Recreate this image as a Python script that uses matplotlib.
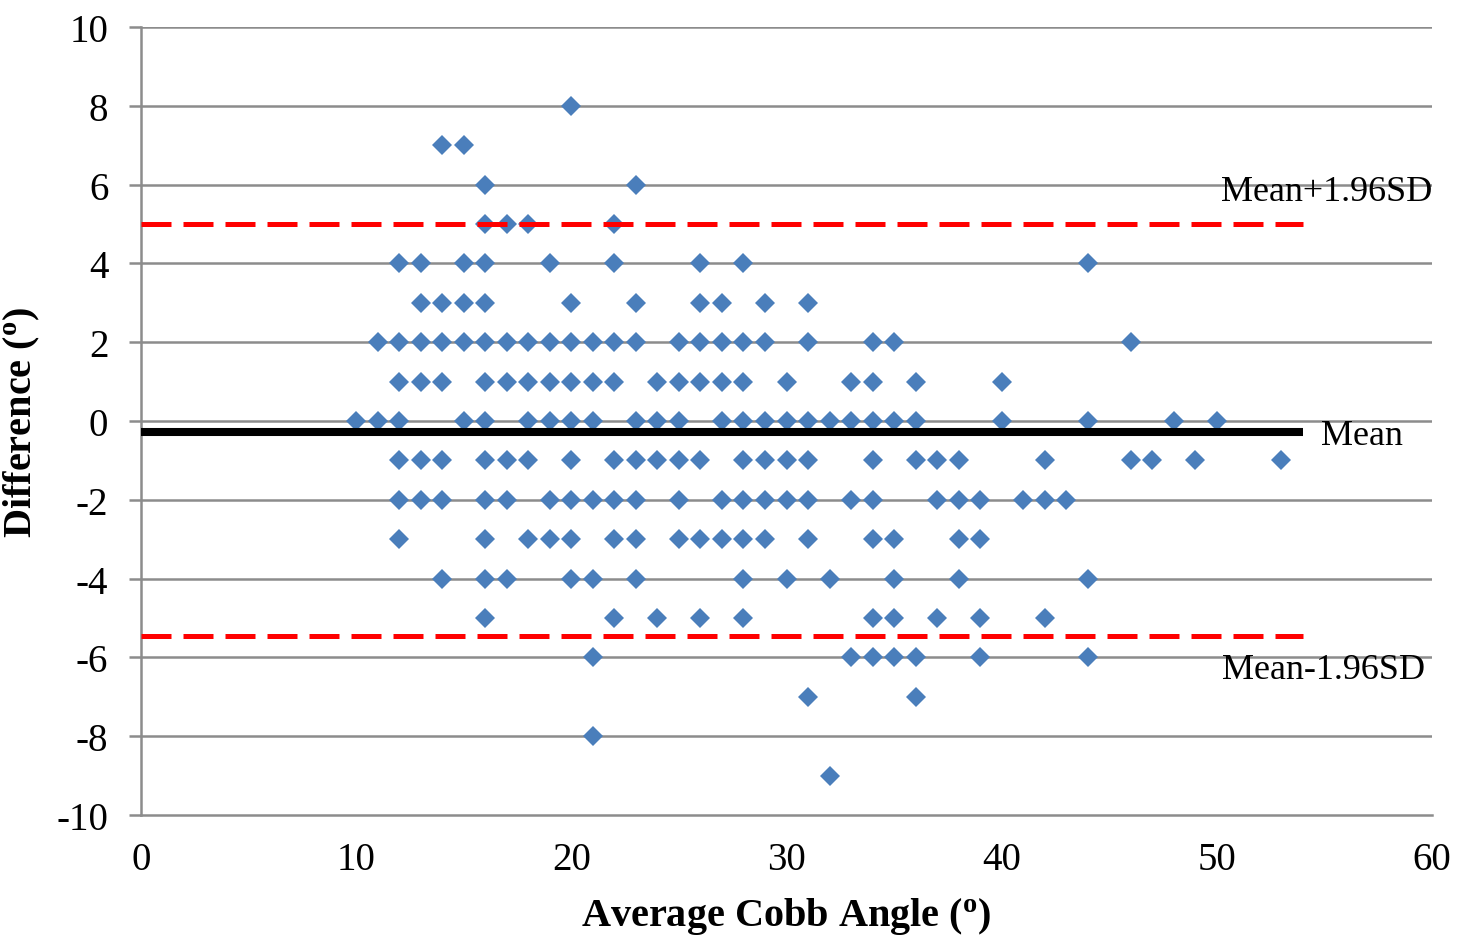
import matplotlib
matplotlib.use("Agg")
import matplotlib.pyplot as plt
import numpy as np

plt.rcParams['font.family'] = ['Liberation Serif', 'DejaVu Serif']
plt.rcParams['mathtext.fontset'] = 'custom'
plt.rcParams['mathtext.rm'] = 'Liberation Serif'
plt.rcParams['mathtext.bf'] = 'Liberation Serif:bold'
plt.rcParams['axes.unicode_minus'] = False

# Data: average Cobb angle values grouped by difference value
rows = {
    8: [20],
    7: [14, 15],
    6: [16, 23],
    5: [16, 17, 18, 22],
    4: [12, 13, 15, 16, 19, 22, 26, 28, 44],
    3: [13, 14, 15, 16, 20, 23, 26, 27, 29, 31],
    2: [11, 12, 13, 14, 15, 16, 17, 18, 19, 20, 21, 22, 23, 25, 26, 27, 28, 29, 31, 34, 35, 46],
    1: [12, 13, 14, 16, 17, 18, 19, 20, 21, 22, 24, 25, 26, 27, 28, 30, 33, 34, 36, 40],
    0: [10, 11, 12, 15, 16, 18, 19, 20, 21, 23, 24, 25, 27, 28, 29, 30, 31, 32, 33, 34, 35, 36, 40, 44, 48, 50],
    -1: [12, 13, 14, 16, 17, 18, 20, 22, 23, 24, 25, 26, 28, 29, 30, 31, 34, 36, 37, 38, 42, 46, 47, 49, 53],
    -2: [12, 13, 14, 16, 17, 19, 20, 21, 22, 23, 25, 27, 28, 29, 30, 31, 33, 34, 37, 38, 39, 41, 42, 43],
    -3: [12, 16, 18, 19, 20, 22, 23, 25, 26, 27, 28, 29, 31, 34, 35, 38, 39],
    -4: [14, 16, 17, 20, 21, 23, 28, 30, 32, 35, 38, 44],
    -5: [16, 22, 24, 26, 28, 34, 35, 37, 39, 42],
    -6: [21, 33, 34, 35, 36, 39, 44],
    -7: [31, 36],
    -8: [21],
    -9: [32],
}
avg_angle = [x for d, xs in rows.items() for x in xs]
difference = [d for d, xs in rows.items() for x in xs]

mean_diff = -0.28
upper_loa = 5.0
lower_loa = -5.46
line_x = [0, 54]

fig = plt.figure(figsize=(14.69, 9.37), dpi=100)
ax = fig.add_axes([141/1469, 1 - 816/937, (1432-141)/1469, (816-28)/937])

ax.set_xlim(0, 60)
ax.set_ylim(-10, 10)
ax.set_yticks(np.arange(-10, 11, 2))
ax.set_xticks(np.arange(0, 61, 10))

grid_c = '#8C8C8C'
for yv in np.arange(-8, 11, 2):
    ax.axhline(yv, color=grid_c, lw=1.8, zorder=1)

ax.plot(avg_angle, difference, linestyle='none', marker='D', ms=10.6,
        color='#4A7EBB', mec='#4A7EBB', mew=0, zorder=3)

ax.plot(line_x, [mean_diff, mean_diff], color='black', lw=5.8, zorder=4,
        solid_capstyle='butt')
ax.plot(line_x, [upper_loa, upper_loa], color='#FF0000', lw=3.6, zorder=4,
        dashes=(6, 2.4), dash_capstyle='butt')
ax.plot(line_x, [lower_loa, lower_loa], color='#FF0000', lw=3.6, zorder=4,
        dashes=(6, 2.4), dash_capstyle='butt')

fs = 28
ax.text(60, 5.82, 'Mean+1.96SD', ha='right', va='center', fontsize=fs - 2, clip_on=False)
ax.text(54.85, -0.38, 'Mean', ha='left', va='center', fontsize=fs - 2, clip_on=False)
ax.text(59.7, -6.3, 'Mean-1.96SD', ha='right', va='center', fontsize=fs - 2, clip_on=False)

for s in ['top', 'right']:
    ax.spines[s].set_visible(False)
for s in ['left', 'bottom']:
    ax.spines[s].set_color(grid_c)
    ax.spines[s].set_linewidth(1.8)

ax.tick_params(axis='y', direction='out', length=8.5, width=1.8, color=grid_c,
               labelsize=fs, pad=15)
ax.tick_params(axis='x', length=0, labelsize=fs, pad=19)

ax.set_xlabel(r'Average Cobb Angle ($\mathbf{^{o}}$)', fontsize=fs + 1,
              fontweight='bold', labelpad=12)
ax.set_ylabel(r'Difference ($\mathbf{^{o}}$)', fontsize=fs + 1,
              fontweight='bold')
ax.yaxis.set_label_coords((42 - 141) / 1291, 0.5)

fig.savefig('out.png', dpi=100)
